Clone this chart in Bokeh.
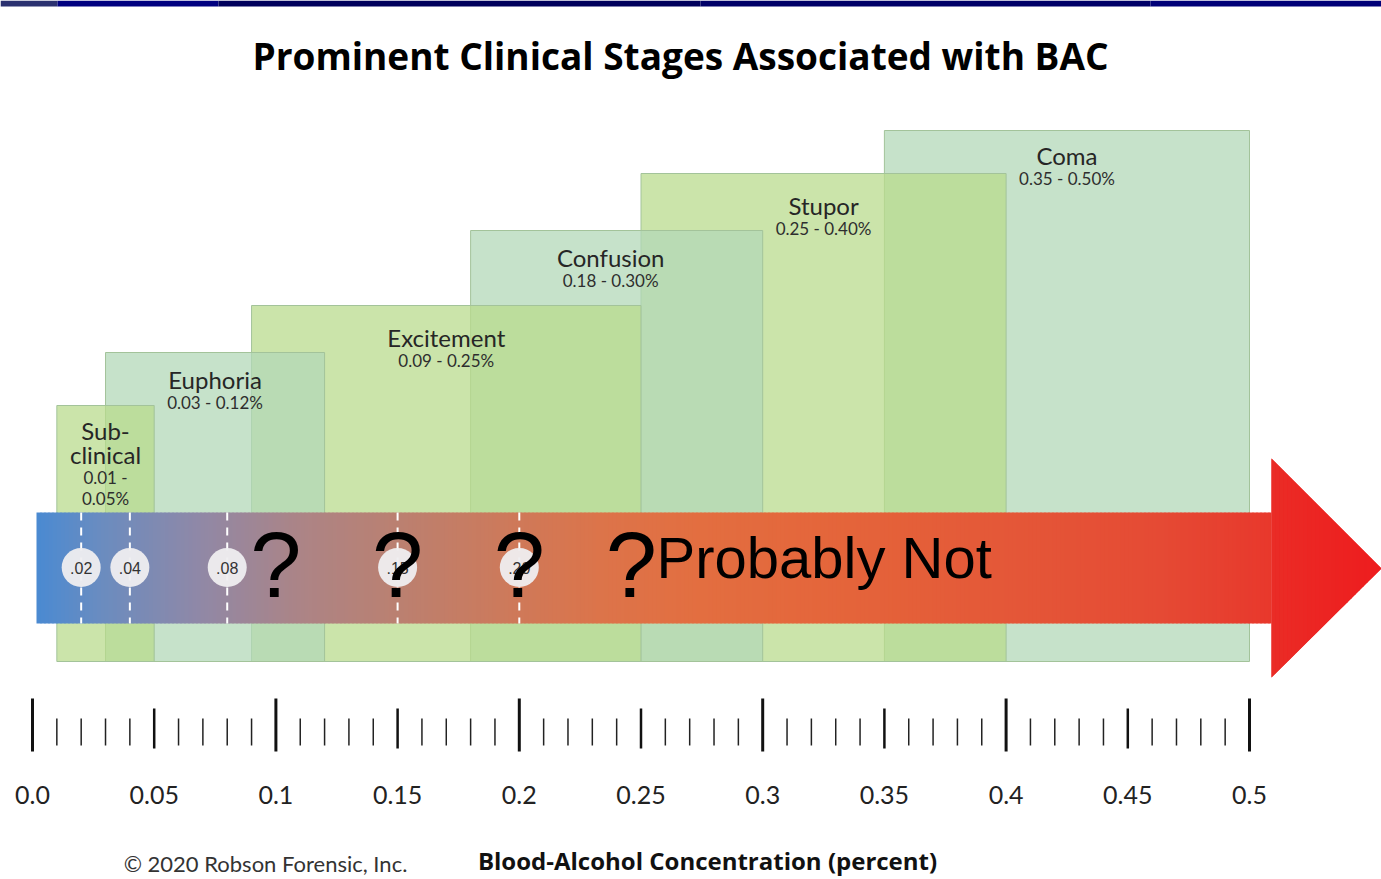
from bokeh.plotting import figure
from bokeh.models import Range1d
from bokeh.embed import file_html
from bokeh.resources import INLINE
from bokeh.core.properties import value

# ---------------- data ----------------
stage_names = [["Sub-", "clinical"], ["Euphoria"], ["Excitement"], ["Confusion"], ["Stupor"], ["Coma"]]
stage_ranges = [["0.01 -", "0.05%"], ["0.03 - 0.12%"], ["0.09 - 0.25%"], ["0.18 - 0.30%"],
                ["0.25 - 0.40%"], ["0.35 - 0.50%"]]
stage_lo = [0.01, 0.03, 0.09, 0.18, 0.25, 0.35]
stage_hi = [0.05, 0.12, 0.25, 0.30, 0.40, 0.50]

marker_bac = [0.02, 0.04, 0.08, 0.15, 0.20]
marker_labels = [".02", ".04", ".08", ".15", ".20"]
question_bac = [0.10, 0.15, 0.20, 0.246]

major_ticks = [0.0, 0.1, 0.2, 0.3, 0.4, 0.5]
mid_ticks = [0.05, 0.15, 0.25, 0.35, 0.45]
minor_ticks = [i / 100 for i in range(51) if i % 5 != 0]
tick_values = [0.0, 0.05, 0.1, 0.15, 0.2, 0.25, 0.3, 0.35, 0.4, 0.45, 0.5]
tick_labels = ["0.0", "0.05", "0.1", "0.15", "0.2", "0.25", "0.3", "0.35", "0.4", "0.45", "0.5"]

title_text = "Prominent Clinical Stages Associated with BAC"
axis_title = "Blood-Alcohol Concentration (percent)"
credit = "\u00a9 2020 Robson Forensic, Inc."
verdict = "Probably Not"

# ---------------- layout / style ----------------
W, H = 1381, 879
PX0, PPU = 32.0, 2434.0          # page px of BAC 0.0, px per BAC unit


def X(px):
    return (px - PX0) / PPU


stage_top = [405, 352, 305, 230, 173, 130]
stage_bottom = 661
stage_label_dx = [0, 0, 0, -6, 0, 0]
stage_label_dy = [-2, 0, 5, 0, 5, -2]
stage_fill = ["#b9db8c", "#b2d8b7", "#b9db8c", "#b2d8b7", "#b9db8c", "#b2d8b7"]

p = figure(width=W, height=H, output_backend="svg", toolbar_location=None,
           x_range=Range1d(X(0), X(W)), y_range=Range1d(H, 0),
           x_axis_location=None, y_axis_location=None, min_border=0,
           outline_line_color=None, background_fill_color="white",
           border_fill_color="white")
p.xgrid.visible = False
p.ygrid.visible = False

# top navy banner
p.quad(left=[X(0), X(57), X(218), X(700), X(1150)],
       right=[X(57), X(218), X(700), X(1150), X(1381)],
       top=[0] * 5, bottom=[6] * 5,
       fill_color=["#2b3170", "#000080", "#00005c", "#000068", "#000078"],
       line_color=None)

# stage rectangles (drawn right to left so earlier stages sit on top)
for i in reversed(range(len(stage_lo))):
    p.quad(left=[stage_lo[i]], right=[stage_hi[i]], top=[stage_top[i]], bottom=[stage_bottom],
           fill_color=stage_fill[i], fill_alpha=0.74, line_color="#a3c39a", line_width=1)

# stage labels
for i in range(len(stage_lo)):
    cx = (stage_lo[i] + stage_hi[i]) / 2 + stage_label_dx[i] / PPU
    y = stage_top[i] + 27 + stage_label_dy[i]
    for ln in stage_names[i]:
        p.text(x=[cx], y=[y], text=[ln], text_align="center", text_baseline="middle",
               text_font=value("Lato"), text_font_size="24px", text_color="#262626")
        y += 24
    y -= 1
    for ln in stage_ranges[i]:
        p.text(x=[cx], y=[y], text=[ln], text_align="center", text_baseline="middle",
               text_font=value("Lato"), text_font_size="17px", text_color="#2e2e2e")
        y += 21


# ---------------- gradient arrow ----------------
def hex2rgb(h):
    h = h.lstrip("#")
    return tuple(int(h[k:k + 2], 16) for k in (0, 2, 4))


body_stops = [(36, "#4a8ad2"), (100, "#6a8cc0"), (200, "#9088a6"), (300, "#ac8486"),
              (400, "#bb8070"), (500, "#cc7a5c"), (600, "#dc744a"), (700, "#e36e40"),
              (850, "#e4643a"), (1000, "#e45838"), (1160, "#e54a34"), (1271, "#e8382c")]
head_stops = [(1271, "#ea2c26"), (1381, "#ee1c1e")]


def colour_at(px, stops):
    for (a, ca), (b, cb) in zip(stops[:-1], stops[1:]):
        if a <= px <= b:
            t = (px - a) / (b - a)
            r1, g1, b1 = hex2rgb(ca)
            r2, g2, b2 = hex2rgb(cb)
            return "#%02x%02x%02x" % (round(r1 + (r2 - r1) * t), round(g1 + (g2 - g1) * t),
                                      round(b1 + (b2 - b1) * t))
    return stops[-1][1]


STEP = 4
lefts, rights, cols = [], [], []
px = 36
while px < 1271:
    nx = min(px + STEP, 1271)
    lefts.append(X(px))
    rights.append(X(min(nx + 1, 1271)))
    cols.append(colour_at((px + nx) / 2, body_stops))
    px = nx
p.quad(left=lefts, right=rights, top=[512] * len(lefts), bottom=[623] * len(lefts),
       fill_color=cols, line_color=None)

HB, HT = 1271, 1381
HY0, HY1, HYT = 458, 677, 568
p.patch(x=[X(HB), X(HT), X(HB)], y=[HY0, HYT, HY1], fill_color="#ec2422", line_color=None)
xs, ys, hcols = [], [], []
px = HB
while px < HT:
    nx = min(px + STEP, HT)
    f0 = (px - HB) / (HT - HB)
    f1 = (nx - HB) / (HT - HB)
    t0 = HY0 + f0 * (HYT - HY0)
    t1 = HY0 + f1 * (HYT - HY0)
    b0 = HY1 - f0 * (HY1 - HYT)
    b1 = HY1 - f1 * (HY1 - HYT)
    xs.append([X(px), X(nx), X(nx), X(px)])
    ys.append([t0, t1, b1, b0])
    hcols.append(colour_at((px + nx) / 2, head_stops))
    px = nx
p.patches(xs=xs, ys=ys, fill_color=hcols, line_color=None)

# dashed guide lines and BAC markers
p.segment(x0=marker_bac, x1=marker_bac, y0=[512] * len(marker_bac), y1=[623] * len(marker_bac),
          line_color="white", line_width=2, line_dash="8 7")
p.scatter(x=marker_bac, y=[567] * len(marker_bac), size=39, marker="circle",
          fill_color="#efeef0", fill_alpha=0.95, line_color=None)
p.text(x=marker_bac, y=[567] * len(marker_bac), text=marker_labels, text_align="center",
       text_baseline="middle", text_font=value("Liberation Sans"), text_font_size="16px",
       text_color="#333333")

# question marks and verdict
p.text(x=question_bac, y=[564] * len(question_bac), text=["?"] * len(question_bac),
       text_align="center", text_baseline="alphabetic", text_font=value("Liberation Sans"),
       text_font_size="92px", text_color="black")
p.text(x=[X(656)], y=[557], text=[verdict], text_align="left", text_baseline="alphabetic",
       text_font=value("Liberation Sans"), text_font_size="58px", text_color="black")

# ---------------- ruler ----------------
p.segment(x0=major_ticks, x1=major_ticks, y0=[698] * 6, y1=[751] * 6,
          line_color="#111111", line_width=3)
p.segment(x0=mid_ticks, x1=mid_ticks, y0=[708] * 5, y1=[748] * 5,
          line_color="#111111", line_width=2.5)
p.segment(x0=minor_ticks, x1=minor_ticks, y0=[718] * len(minor_ticks),
          y1=[745] * len(minor_ticks), line_color="#222222", line_width=1.5)
p.text(x=tick_values, y=[794] * len(tick_values), text=tick_labels, text_align="center",
       text_baseline="middle", text_font=value("Lato"), text_font_size="25px",
       text_color="#222222")

# ---------------- titles ----------------
p.text(x=[X(680)], y=[55], text=[title_text], text_align="center", text_baseline="middle",
       text_font=value("Open Sans"), text_font_style="bold", text_font_size="37px",
       text_color="black")
p.text(x=[X(707)], y=[860], text=[axis_title], text_align="center", text_baseline="middle",
       text_font=value("Open Sans"), text_font_style="bold", text_font_size="24px",
       text_color="#111111")
p.text(x=[X(265)], y=[863], text=[credit], text_align="center", text_baseline="middle",
       text_font=value("Lato"), text_font_size="22px", text_color="#333333")

open("out.html", "w").write(file_html(p, INLINE))
